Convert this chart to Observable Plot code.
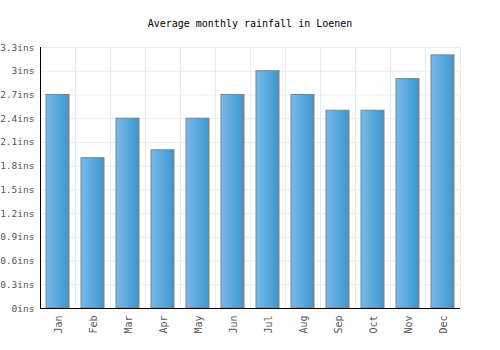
<!DOCTYPE html>
<html>
<head>
<meta charset="utf-8">
<script src="https://cdn.jsdelivr.net/npm/d3@7"></script>
<script src="https://cdn.jsdelivr.net/npm/@observablehq/plot@0.6"></script>
<style>
  html, body { margin: 0; padding: 0; background: #fff; }
  #title { width: 500px; height: 40px; box-sizing: border-box; padding-top: 18px; text-align: center;
           font-family: "DejaVu Sans Mono", monospace; font-size: 10px; line-height: 12px; color: #000; }
  #chart svg { display: block; }
</style>
</head>
<body>
<div id="title">Average monthly rainfall in Loenen</div>
<div id="chart"></div>
<script>
const months = ["Jan","Feb","Mar","Apr","May","Jun","Jul","Aug","Sep","Oct","Nov","Dec"];
const rainfall = [2.7, 1.9, 2.4, 2.0, 2.4, 2.7, 3.0, 2.7, 2.5, 2.5, 2.9, 3.2];
const yTicks = [0, 0.3, 0.6, 0.9, 1.2, 1.5, 1.8, 2.1, 2.4, 2.7, 3.0, 3.3];
const yTickLabels = ["0ins","0.3ins","0.6ins","0.9ins","1.2ins","1.5ins","1.8ins","2.1ins","2.4ins","2.7ins","3ins","3.3ins"];

const data = months.map((m, i) => ({month: m, i, value: rainfall[i]}));
const boundaries = d3.range(months.length + 1);

const defs = () => {
  const g = d3.create("svg:defs");
  const lg = g.append("linearGradient").attr("id", "barGrad").attr("x1", 0).attr("x2", 1).attr("y1", 0).attr("y2", 0);
  lg.append("stop").attr("offset", "0%").attr("stop-color", "#7ab9ea");
  lg.append("stop").attr("offset", "100%").attr("stop-color", "#3b97cf");
  return g.node();
};

const chart = Plot.plot({
  width: 500,
  height: 310,
  marginTop: 7,
  marginBottom: 42,
  marginLeft: 40,
  marginRight: 40,
  style: {fontFamily: "DejaVu Sans Mono, monospace", fontSize: "10px", background: "#fff"},
  x: {domain: [0, months.length], axis: null},
  y: {domain: [0, 3.3], axis: null},
  marks: [
    defs,
    Plot.ruleY(yTicks, {stroke: "#ececec", strokeWidth: 1}),
    Plot.ruleX(boundaries, {stroke: "#ececec", strokeWidth: 1}),
    Plot.rectY(data, {x1: d => d.i, x2: d => d.i + 1, y1: 0, y2: "value", fill: "url(#barGrad)", stroke: "#808080", strokeWidth: 1, insetLeft: 6, insetRight: 6}),
    Plot.ruleX([0], {stroke: "#000", strokeWidth: 1}),
    Plot.ruleY([0], {stroke: "#000", strokeWidth: 1}),
    Plot.text(yTicks, {x: 0, y: d => d, text: (d, i) => yTickLabels[i], textAnchor: "end", dx: -6, fill: "#555", fontSize: 9.5}),
    Plot.text(data, {x: d => d.i + 0.5, y: 0, text: "month", rotate: -90, textAnchor: "end", dy: 7, dx: 1, fill: "#555"})
  ]
});
document.getElementById("chart").appendChild(chart);
</script>
</body>
</html>
